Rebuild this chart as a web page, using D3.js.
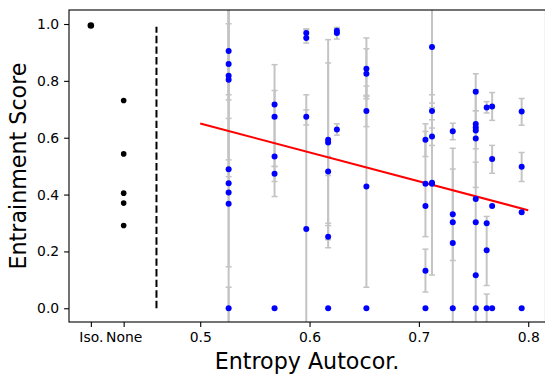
<!DOCTYPE html>
<html>
<head>
<meta charset="utf-8">
<script src="https://cdn.jsdelivr.net/npm/d3@7"></script>
<style>
body{margin:0;background:#fff;}
svg{display:block;font-family:"DejaVu Sans",sans-serif;}
</style>
</head>
<body>
<svg width="545" height="374"></svg>
<script>
// baseline groups (left of the dashed line)
const isoX=0.40, noneX=0.43, splitX=0.46;
const isoScores=[0.995];
const noneScores=[0.731,0.543,0.405,0.370,0.291];

// entropy autocorrelation points + asymmetric error bars
const entX=[
 0.526,0.526,0.526,0.526,0.526,0.526,0.526,0.526,0.526,
 0.568,0.568,0.568,0.568,0.568,
 0.597,0.597,0.597,0.597,
 0.617,0.617,0.617,0.617,0.617,
 0.625,0.625,0.625,
 0.652,0.652,0.652,0.652,0.652,
 0.706,0.706,0.706,0.706,0.706,
 0.712,0.712,0.712,0.712,0.712,
 0.731,0.731,0.731,0.731,0.731,
 0.752,0.752,0.752,0.752,0.752,0.752,0.752,0.752,0.752,
 0.762,0.762,0.762,0.762,
 0.767,0.767,0.767,0.767,
 0.794,0.794,0.794,0.794];
const entY=[
 0.905,0.859,0.818,0.804,0.489,0.440,0.407,0.368,0.0,
 0.717,0.674,0.534,0.473,0.0,
 0.968,0.951,0.674,0.279,
 0.593,0.583,0.481,0.252,0.0,
 0.976,0.968,0.629,
 0.843,0.825,0.694,0.428,0.0,
 0.593,0.438,0.360,0.132,0.0,
 0.919,0.694,0.604,0.442,0.438,
 0.623,0.331,0.303,0.230,0.0,
 0.762,0.648,0.636,0.625,0.597,0.384,0.303,0.116,0.0,
 0.706,0.299,0.204,0.0,
 0.710,0.525,0.360,0.0,
 0.692,0.498,0.338,0.0];
const errLow=[
 0.442,0.337,0.085,0.053,0.689,0,0.261,0,0.074,
 0.049,0.175,0.141,0.027,0,
 0.015,0.018,0.029,0.472,
 0.352,0.284,0.014,0.039,0,
 0.010,0.021,0.020,
 0.098,0.088,0.055,0.354,0,
 0.059,0.186,0,0.075,0,
 0.213,0.031,0.031,0.325,0,
 0.030,0.163,0,0.330,0,
 0.067,0,0,0.064,0.172,0,0,0.396,0,
 0.019,0,0.124,0.050,
 0.049,0.050,0,0,
 0.048,0.052,0,0];
const errHigh=[
 0.445,0.341,0.183,0.296,0.711,0,0.261,0,0.074,
 0.049,0.183,0.141,0.026,0,
 0.015,0.029,0.024,0.472,
 0.352,0.280,0.053,0.039,0,
 0.009,0.020,0.020,
 0.108,0.088,0.055,0.354,0,
 0.056,0.184,0,0.076,0,
 0.211,0.028,0.030,0.309,0,
 0.028,0.159,0,0.333,0,
 0.063,0,0,0.070,0.172,0,0,0.398,0,
 0.021,0,0.119,0.050,
 0.049,0.048,0,0,
 0.046,0.050,0,0];

// linear fit endpoints
const fitX=[0.5,0.8];
const fitY=[0.65,0.345];

const yTicks=[0,0.2,0.4,0.6,0.8,1.0];
const xTicks=[isoX,noneX,0.5,0.6,0.7,0.8];
const xTickLabels=['Iso.','None','0.5','0.6','0.7','0.8'];

const svg=d3.select('svg');
const margin={top:10,right:-0.5,bottom:52,left:69};
const W=545,H=374;

const x=d3.scaleLinear().domain([0.38,0.8158]).range([margin.left,W-margin.right]);
const y=d3.scaleLinear().domain([-0.0483,1.0493]).range([H-margin.bottom,margin.top]);

svg.append('clipPath').attr('id','clip')
  .append('rect')
  .attr('x',margin.left).attr('y',margin.top)
  .attr('width',W-margin.right-margin.left).attr('height',H-margin.bottom-margin.top);

const plot=svg.append('g').attr('clip-path','url(#clip)');

/****** error bars ******/
const pts=entX.map((d,i)=>({x:d,y:entY[i],lo:entY[i]-errLow[i],hi:entY[i]+errHigh[i]}))
const bars=pts.filter(d=>d.hi>d.lo);
const eb=plot.append('g').attr('stroke','#c4c4c4').attr('fill','none');
eb.selectAll('line.bar').data(bars).enter().append('line')
  .attr('class','bar')
  .attr('x1',d=>x(d.x)).attr('x2',d=>x(d.x))
  .attr('y1',d=>y(d.lo)).attr('y2',d=>y(d.hi))
  .attr('stroke-width',2);
const caps=bars.flatMap(d=>[{x:d.x,v:d.lo},{x:d.x,v:d.hi}]);
eb.selectAll('line.cap').data(caps).enter().append('line')
  .attr('class','cap')
  .attr('x1',d=>x(d.x)-3).attr('x2',d=>x(d.x)+3)
  .attr('y1',d=>y(d.v)).attr('y2',d=>y(d.v))
  .attr('stroke-width',1.5);

/****** dashed separator ******/
plot.append('line')
  .attr('x1',x(splitX)).attr('x2',x(splitX))
  .attr('y1',y(0)).attr('y2',y(0.99))
  .attr('stroke','black').attr('stroke-width',2)
  .attr('stroke-dasharray','7.4,3.2');

/****** fit line ******/
plot.append('path')
  .datum(fitX.map((d,i)=>[d,fitY[i]]))
  .attr('d',d3.line().x(d=>x(d[0])).y(d=>y(d[1])))
  .attr('stroke','red').attr('stroke-width',2).attr('fill','none');

/****** points ******/
plot.selectAll('circle.ent').data(pts).enter().append('circle')
  .attr('class','ent')
  .attr('cx',d=>x(d.x)).attr('cy',d=>y(d.y)).attr('r',3)
  .attr('fill','blue');
plot.selectAll('circle.iso').data(isoScores).enter().append('circle')
  .attr('class','iso')
  .attr('cx',x(isoX)).attr('cy',d=>y(d)).attr('r',3.3)
  .attr('fill','black');
plot.selectAll('circle.none').data(noneScores).enter().append('circle')
  .attr('class','none')
  .attr('cx',x(noneX)).attr('cy',d=>y(d)).attr('r',2.8)
  .attr('fill','black');

/****** axes ******/
const xAxis=d3.axisBottom(x).tickValues(xTicks).tickFormat((d,i)=>xTickLabels[i]).tickSize(4.9).tickPadding(4.9);
const yAxis=d3.axisLeft(y).tickValues(yTicks).tickFormat(d3.format('.1f')).tickSize(4.9).tickPadding(4.9);

const gx=svg.append('g').attr('transform',`translate(0,${H-margin.bottom})`).call(xAxis);
const gy=svg.append('g').attr('transform',`translate(${margin.left},0)`).call(yAxis);
[gx,gy].forEach(g=>{
  g.select('.domain').remove();
  g.selectAll('.tick line').attr('stroke','black').attr('stroke-width',1.1);
  g.selectAll('.tick text').attr('font-size','13.9px').attr('fill','black')
   .attr('font-family','DejaVu Sans');
});

// frame
svg.append('rect')
  .attr('x',margin.left).attr('y',margin.top)
  .attr('width',W-margin.right-margin.left).attr('height',H-margin.bottom-margin.top)
  .attr('fill','none').attr('stroke','black').attr('stroke-width',1.1);

/****** labels ******/
svg.append('text')
  .attr('x',(margin.left+W)/2).attr('y',369)
  .attr('text-anchor','middle').attr('font-size','22.2px')
  .text('Entropy Autocor.');
svg.append('text')
  .attr('transform',`translate(26,${(margin.top+H-margin.bottom)/2}) rotate(-90)`)
  .attr('text-anchor','middle').attr('font-size','22.2px')
  .text('Entrainment Score');
</script>
</body>
</html>
